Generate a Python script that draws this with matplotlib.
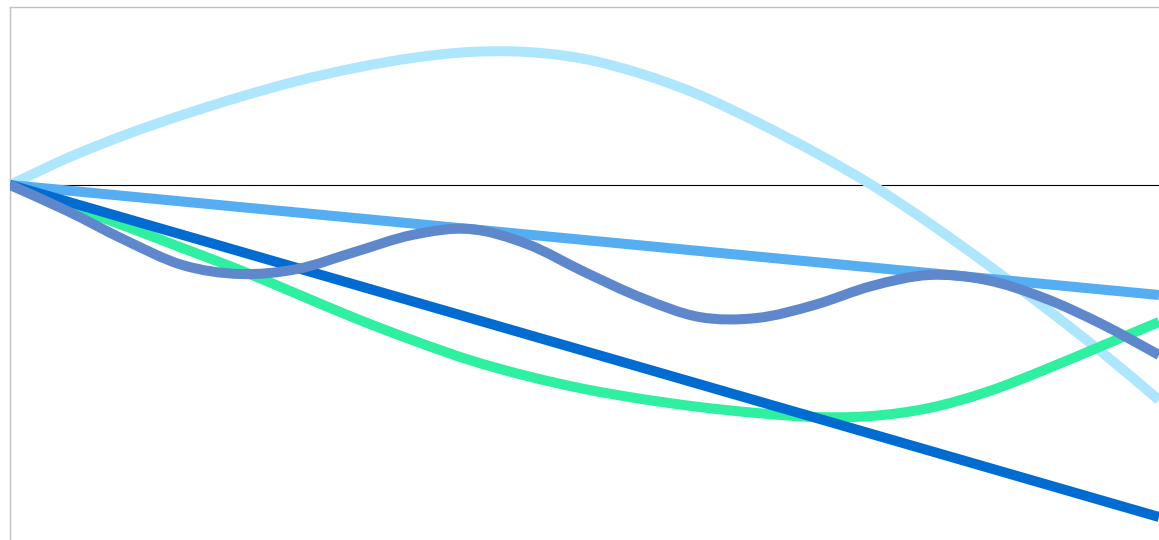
import matplotlib
matplotlib.use("Agg")
import matplotlib.pyplot as plt
from matplotlib.path import Path
from matplotlib.patches import PathPatch

# x positions (21 samples across the chart)
x = list(range(21))

light_blue = [0, 2.7, 5.0, 7.0, 8.8, 10.4, 11.7, 12.7, 13.3, 13.3, 12.6,
              11.1, 9.0, 6.3, 3.3, 0.0, -3.8, -7.9, -12.2, -16.7, -21.5]
mid_blue = [0, -0.55, -1.1, -1.65, -2.2, -2.75, -3.3, -3.85, -4.4, -4.95, -5.5,
            -6.05, -6.6, -7.15, -7.7, -8.25, -8.8, -9.35, -9.9, -10.45, -11.0]
green = [0, -2.0, -4.1, -6.3, -8.5, -10.9, -13.3, -15.5, -17.5, -19.1, -20.4,
         -21.4, -22.2, -22.8, -23.2, -23.1, -22.3, -20.7, -18.5, -16.1, -13.7]
dark_blue = [0, -1.66, -3.32, -4.98, -6.64, -8.3, -9.96, -11.62, -13.28, -14.94, -16.6,
             -18.26, -19.92, -21.58, -23.24, -24.9, -26.56, -28.22, -29.88, -31.54, -33.2]
steel_blue = [0, -2.6, -5.5, -8.0, -8.9, -8.4, -6.7, -5.0, -4.4, -5.9, -8.7,
              -11.3, -13.2, -13.3, -12.0, -10.1, -9.0, -9.5, -11.3, -13.9, -17.0]


def smooth_path(xs, ys):
    # smooth line through the points (catmull-rom as cubic bezier segments)
    pts = list(zip(xs, ys))
    verts = [pts[0]]
    codes = [Path.MOVETO]
    n = len(pts)
    for i in range(n - 1):
        p0 = pts[max(i - 1, 0)]
        p1 = pts[i]
        p2 = pts[i + 1]
        p3 = pts[min(i + 2, n - 1)]
        c1 = (p1[0] + (p2[0] - p0[0]) / 6, p1[1] + (p2[1] - p0[1]) / 6)
        c2 = (p2[0] - (p3[0] - p1[0]) / 6, p2[1] - (p3[1] - p1[1]) / 6)
        verts += [c1, c2, p2]
        codes += [Path.CURVE4] * 3
    return Path(verts, codes)


fig = plt.figure(figsize=(11.59, 5.40), dpi=100)
ax = fig.add_axes([10 / 1159, 0, 1149 / 1159, 533 / 540])

ax.axhline(0, color="black", linewidth=0.8, zorder=1)

lw = 7.2
series = [
    (light_blue, "#ade6fd"),
    (mid_blue, "#55adf2"),
    (green, "#2ef0a0"),
    (dark_blue, "#006bd0"),
    (steel_blue, "#5e88cb"),
]
for z, (ys, col) in enumerate(series):
    patch = PathPatch(smooth_path(x, ys), facecolor="none", edgecolor=col,
                      linewidth=lw, capstyle="butt", zorder=2 + z)
    ax.add_patch(patch)

ax.set_xlim(0, 20)
ax.set_ylim(-35.5, 17.8)
ax.set_xticks([])
ax.set_yticks([])
for side in ["right", "bottom"]:
    ax.spines[side].set_visible(False)
for side in ["left", "top"]:
    ax.spines[side].set_color("#c0c0c0")
    ax.spines[side].set_linewidth(1)

fig.savefig("out.png", dpi=100)
